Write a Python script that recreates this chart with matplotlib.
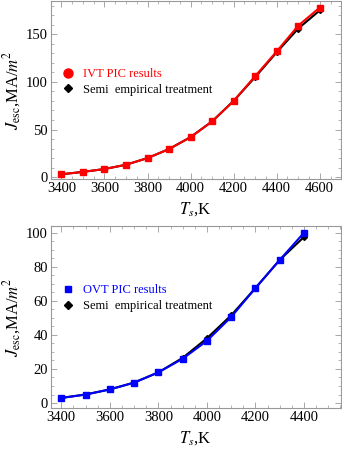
import matplotlib.pyplot as plt
from matplotlib.lines import Line2D
from matplotlib.ticker import MultipleLocator

plt.rcParams['font.family'] = 'Liberation Serif'
plt.rcParams['mathtext.fontset'] = 'stix'

# top panel: IVT
temps_ivt = [3400, 3500, 3600, 3700, 3800, 3900, 4000, 4100, 4200, 4300, 4400, 4500, 4600]
pic_ivt = [3, 5.5, 8.5, 13, 20, 29.5, 42, 58.5, 80, 106, 132, 159, 178]
semi_ivt = [3, 5.5, 8.5, 13, 20, 29.5, 42, 58.5, 80, 105, 131, 156, 175]

# bottom panel: OVT
temps_ovt = [3400, 3500, 3600, 3700, 3800, 3900, 4000, 4100, 4200, 4300, 4400]
pic_ovt = [3, 5, 8, 12, 18, 26, 36.5, 50.5, 67.5, 84, 100]
semi_ovt = [3, 5, 8, 12, 18, 26.5, 38, 51.5, 67.5, 84, 97.5]

fig = plt.figure(figsize=(3.42, 4.51), dpi=100)
ax1 = fig.add_axes([0.148, 0.603, 0.848, 0.395])
ax2 = fig.add_axes([0.148, 0.095, 0.848, 0.403])


def style(ax, xmaj, xmin, ymaj, ymin):
    for s in ax.spines.values():
        s.set_color('#999999')
        s.set_linewidth(0.8)
    ax.xaxis.set_major_locator(MultipleLocator(xmaj))
    ax.xaxis.set_minor_locator(MultipleLocator(xmin))
    ax.yaxis.set_major_locator(MultipleLocator(ymaj))
    ax.yaxis.set_minor_locator(MultipleLocator(ymin))
    ax.tick_params(which='both', direction='in', top=True, right=True,
                   color='#999999', labelsize=10.5, pad=2)
    ax.tick_params(which='major', length=4, width=0.6)
    ax.tick_params(which='minor', length=2, width=0.5)
    ax.set_xlabel(r'$T_s$,K', fontsize=12, labelpad=4)
    ax.set_ylabel(r'$J_{\rm esc}$,MA/$m^2$', fontsize=12, labelpad=2)


# top
ax1.plot(temps_ivt, semi_ivt, color='black', lw=1.5, marker='D', ms=3)
ax1.plot(temps_ivt, pic_ivt, color='red', lw=1.5, marker='s', ms=4.5)
ax1.set_xlim(3350, 4697)
ax1.set_ylim(-2, 185)
style(ax1, 200, 50, 50, 10)
h1 = [Line2D([], [], ls='none', marker='o', color='red', ms=6.5),
      Line2D([], [], ls='none', marker='D', color='black', ms=4)]
leg1 = ax1.legend(h1, ['IVT PIC results', 'Semi  empirical treatment'],
                  loc='upper left', bbox_to_anchor=(0.0, 0.687), frameon=False,
                  fontsize=9, handlelength=1.0, handletextpad=0.7, labelspacing=0.3)
leg1.get_texts()[0].set_color('red')

# bottom
ax2.plot(temps_ovt, semi_ovt, color='black', lw=1.5, marker='D', ms=3)
ax2.plot(temps_ovt, pic_ovt, color='blue', lw=1.5, marker='s', ms=4.5)
ax2.set_xlim(3356, 4551)
ax2.set_ylim(-3, 103.7)
style(ax2, 200, 50, 20, 5)
h2 = [Line2D([], [], ls='none', marker='s', color='blue', ms=4.5),
      Line2D([], [], ls='none', marker='D', color='black', ms=4)]
leg2 = ax2.legend(h2, ['OVT PIC results', 'Semi  empirical treatment'],
                  loc='upper left', bbox_to_anchor=(0.0, 0.744), frameon=False,
                  fontsize=9, handlelength=1.0, handletextpad=0.7, labelspacing=0.3)
leg2.get_texts()[0].set_color('blue')

fig.savefig('out.png', dpi=100)
